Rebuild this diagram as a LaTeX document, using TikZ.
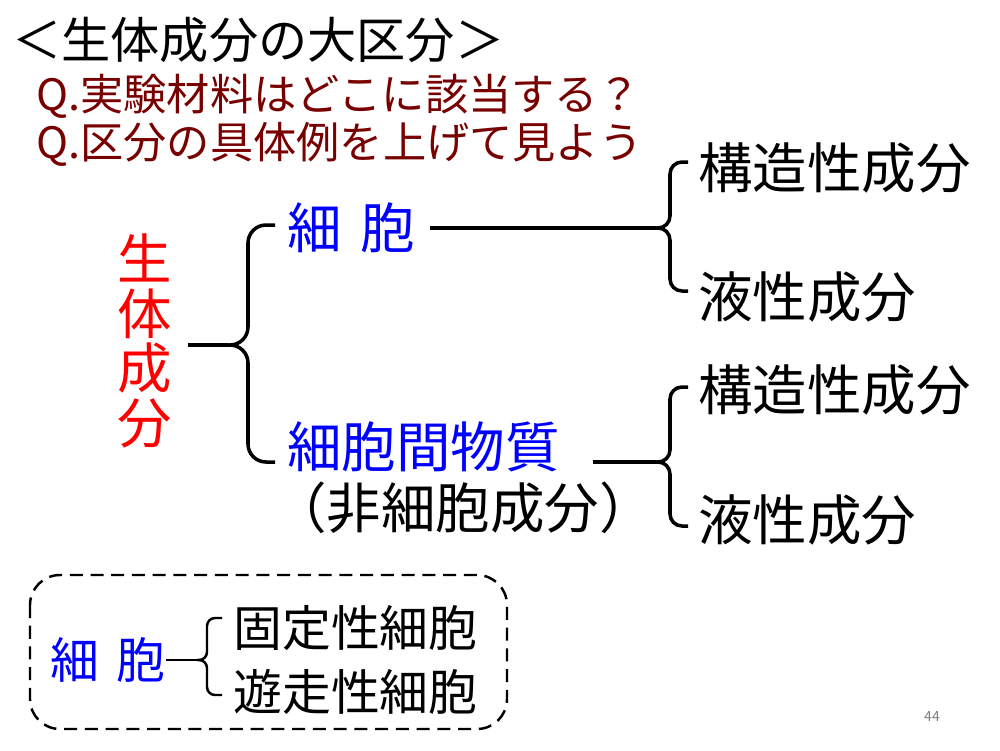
\documentclass[tikz,border=0pt]{standalone}
\usepackage{fontspec}
\setmainfont{Noto Sans CJK JP}
\definecolor{qred}{RGB}{120,0,0}
\newcommand{\bigtxt}{\fontsize{31pt}{31pt}\selectfont}
\newcommand{\ttltxt}{\fontsize{28pt}{30pt}\selectfont}
\newcommand{\qtxt}{\fontsize{24.6pt}{28pt}\selectfont}
\newcommand{\boxtxt}{\fontsize{27.8pt}{30pt}\selectfont}
\tikzset{
  lbl/.style = {inner sep=0pt, anchor=west, font=\bigtxt},
  line/.style = {line width=2.8pt},
  brc/.style = {line width=2pt, rounded corners=#1},
  brc/.default = 0.24cm,
  dashbox/.style = {line width=1.4pt, dash pattern=on 7.4pt off 4.4pt, rounded corners=0.6cm}
}
\begin{document}
\begin{tikzpicture}
\fill[white] (0,0) rectangle (20,-15);
\useasboundingbox (0,0) rectangle (20,-15);

% Heading
\node[lbl, font=\ttltxt] (ttl) at (0.24,-0.80) {＜生体成分の大区分＞};
\node[lbl, font=\qtxt, text=qred] (q1) at (0.72,-1.92) {Q.実験材料はどこに該当する？};
\node[lbl, font=\qtxt, text=qred] (q2) at (0.72,-2.88) {Q.区分の具体例を上げて見よう};

% Left column
\node[inner xsep=0.31cm, inner ysep=0pt, font=\bigtxt, text=red, align=center] (gen) at (2.9,-6.82) {生\\体\\成\\分};

% Middle column
\node[lbl, text=blue] (cel) at (5.74,-4.56) {細\hspace{0.34em}胞};
\node[lbl, text=blue] (mat) at (5.74,-8.94) {細胞間物質};
\node[lbl] (non) at (5.44,-10.16) {（非細胞成分）};

% Right column
\node[lbl] (s1) at (13.96,-3.36) {構造性成分};
\node[lbl] (f1) at (13.96,-5.94) {液性成分};
\node[lbl] (s2) at (13.96,-7.80) {構造性成分};
\node[lbl] (f2) at (13.96,-10.40) {液性成分};

% Box below
\node[lbl, font=\boxtxt, text=blue] (cel2) at (1.0,-13.2) {細\hspace{0.36em}胞};
\node[lbl, font=\boxtxt] (fix) at (4.66,-12.56) {固定性細胞};
\node[lbl, font=\boxtxt] (mob) at (4.66,-13.84) {遊走性細胞};

\node[inner sep=0pt, font=\fontsize{8pt}{9pt}\selectfont, text=gray] (pg) at (18.64,-14.32) {44};

% ----- BRACES -----
\coordinate (t1) at (4.56,-6.9);
\coordinate (t2) at (13.12,-4.56);
\coordinate (t3) at (13.12,-9.24);
\coordinate (t4) at (3.94,-13.2);

% gen -> cel / mat
\draw[line] (gen.east |- t1) -- (t1);
\draw[brc=0.36cm] (t1) -- ++(0.4,0) |- ([xshift=-0.24cm,yshift=0.06cm]cel.west);
\draw[brc=0.36cm] (t1) -- ++(0.4,0) |- ([xshift=-0.24cm,yshift=-0.3cm]mat.west);

% cel -> s1 / f1
\draw[line] ([xshift=0.3cm]cel.east) -- (t2);
\draw[brc] (t2) -- ++(0.28,0) |- ([xshift=-0.2cm,yshift=0.12cm]s1.west);
\draw[brc] (t2) -- ++(0.28,0) |- ([xshift=-0.2cm,yshift=0.12cm]f1.west);

% mat -> s2 / f2
\draw[line] (mat.east |- t3) ++(0.65,0) -- (t3);
\draw[brc] (t3) -- ++(0.28,0) |- ([xshift=-0.2cm,yshift=0.06cm]s2.west);
\draw[brc] (t3) -- ++(0.28,0) |- ([xshift=-0.2cm,yshift=-0.12cm]f2.west);

% cel2 -> fix / mob
\draw[line width=1.4pt] (cel2.east) -- (t4);
\draw[line width=1.4pt, rounded corners=0.16cm] (t4) -- ++(0.2,0) |- ([xshift=-0.22cm,yshift=0.2cm]fix.west);
\draw[line width=1.4pt, rounded corners=0.16cm] (t4) -- ++(0.2,0) |- ([xshift=-0.22cm,yshift=-0.06cm]mob.west);

% dashed frame
\draw[dashbox] (0.6,-11.5) rectangle (10.14,-14.58);

\end{tikzpicture}
\end{document}
